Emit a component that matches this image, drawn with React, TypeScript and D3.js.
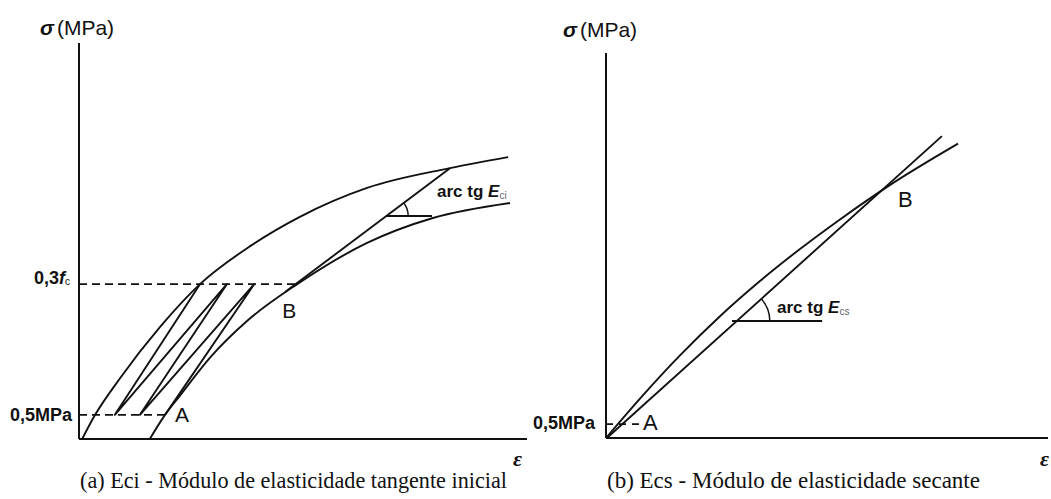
import React from "react";
import * as d3 from "d3";

// ---- Panel (a): initial tangent modulus Eci (strain units 0-100, stress units 0-100)
const eciUpperEnvelope: [number, number][] = [
  [0.7, 0], [3.6, 6.1], [9.2, 15.4], [18.1, 28.3], [27.0, 39.1],
  [38.2, 48.7], [49.3, 56.1], [64.3, 63.4], [82.8, 68.4], [95.8, 71.2],
];
const eciFinalLoading: [number, number][] = [
  [15.8, 0], [19.2, 6.1], [22.5, 10.9], [29.2, 20.5], [37.5, 29.8],
  [48.7, 39.1], [64.3, 49.5], [79.0, 55.8], [96.2, 59.6],
];
// load / unload cycles between 0,5 MPa and 0,3 fc
const eciCycles: [number, number][] = [
  [27.0, 39.1], [8.0, 6.1], [33.0, 39.1], [13.6, 6.1], [39.1, 39.1], [19.2, 6.1],
];
const eciTangent: [number, number][] = [[46.0, 37.1], [82.8, 68.4]];
const eciLevelLow = 6.1;   // 0,5 MPa
const eciLevelHigh = 39.1; // 0,3 fc
const eciPointA: [number, number] = [19.2, 6.1];
const eciPointB: [number, number] = [48.7, 39.1];
const eciAngleBase: [number, number][] = [[68.5, 56.3], [78.8, 56.3]];

// ---- Panel (b): secant modulus Ecs
const ecsCurve: [number, number][] = [
  [0, 0], [7.69, 10.23], [16.74, 21.45], [25.79, 31.64], [34.84, 40.78],
  [43.89, 49.09], [52.94, 56.78], [64.03, 65.56], [79.64, 76.47],
];
const ecsSecant: [number, number][] = [[0.45, 0.26], [76.0, 78.4]];
const ecsLevelLow = 3.6; // 0,5 MPa
const ecsLowDashEnd = 7.7;
const ecsPointA: [number, number] = [3.6, 3.6];
const ecsPointB: [number, number] = [64.0, 65.8];
const ecsAngleBase: [number, number][] = [[28.5, 30.4], [48.9, 30.4]];

const captionA = "(a) Eci - Módulo de elasticidade tangente inicial";
const captionB = "(b) Ecs - Módulo de elasticidade secante";

const W = 1051;
const H = 499;
const INK = "#111";
const SANS = "'Liberation Sans', Arial, Helvetica, sans-serif";
const SERIF = "'Liberation Serif', 'Times New Roman', serif";

type Pt = [number, number];
type Scale = d3.ScaleLinear<number, number>;

function makeLine(x: Scale, y: Scale, curved: boolean) {
  const g = d3.line<Pt>().x((d) => x(d[0])).y((d) => y(d[1]));
  if (curved) g.curve(d3.curveMonotoneX);
  return g;
}

function angleArc(x: Scale, y: Scale, line: Pt[], baseY: number, r: number) {
  // intersection of the modulus line with the horizontal base
  const [p0, p1] = line;
  const t = (baseY - p0[1]) / (p1[1] - p0[1]);
  const cx = x(p0[0] + t * (p1[0] - p0[0]));
  const cy = y(baseY);
  const theta = Math.atan2(y(p0[1]) - y(p1[1]), x(p1[0]) - x(p0[0]));
  return `M${cx + r},${cy} A${r},${r} 0 0 0 ${cx + r * Math.cos(theta)},${cy - r * Math.sin(theta)}`;
}

export default function App() {
  const xL = d3.scaleLinear().domain([0, 100]).range([79, 527]);
  const yL = d3.scaleLinear().domain([0, 100]).range([439, 43]);
  const xR = d3.scaleLinear().domain([0, 100]).range([606, 1048]);
  const yR = d3.scaleLinear().domain([0, 100]).range([438, 53]);

  const curveL = makeLine(xL, yL, true);
  const straightL = makeLine(xL, yL, false);
  const curveR = makeLine(xR, yR, true);
  const straightR = makeLine(xR, yR, false);

  const lineProps = { fill: "none", stroke: INK, strokeWidth: 1.9, strokeLinejoin: "round" as const };
  const axisProps = { stroke: INK, strokeWidth: 2 };
  const dashProps = { stroke: INK, strokeWidth: 1.6, strokeDasharray: "8,5" };

  return (
    <svg
      width={W}
      height={H}
      viewBox={`0 0 ${W} ${H}`}
      style={{ position: "absolute", left: 0, top: 0, display: "block", background: "#fff" }}
    >
      {/* ---------- panel (a) ---------- */}
      <g>
        <line x1={xL(0)} y1={yL(0)} x2={xL(0)} y2={yL(100)} {...axisProps} />
        <line x1={xL(0)} y1={yL(0)} x2={xL(100)} y2={yL(0)} {...axisProps} />

        <line x1={xL(0)} y1={yL(eciLevelHigh)} x2={xL(eciPointB[0])} y2={yL(eciLevelHigh)} {...dashProps} />
        <line x1={xL(0)} y1={yL(eciLevelLow)} x2={xL(eciPointA[0])} y2={yL(eciLevelLow)} {...dashProps} />

        <path d={curveL(eciUpperEnvelope) ?? ""} {...lineProps} />
        <path d={curveL(eciFinalLoading) ?? ""} {...lineProps} />
        <path d={straightL(eciCycles) ?? ""} {...lineProps} />
        <path d={straightL(eciTangent) ?? ""} {...lineProps} />
        <path d={straightL(eciAngleBase) ?? ""} {...lineProps} />
        <path d={angleArc(xL, yL, eciTangent, eciAngleBase[0][1], 22)} {...lineProps} strokeWidth={1.5} />

        <text x={40} y={35} fontFamily={SANS} fontSize={21} fill={INK}>
          <tspan fontStyle="italic" fontWeight="bold">σ</tspan>
          <tspan dx={3}>(MPa)</tspan>
        </text>

        <text x={70} y={yL(eciLevelHigh)} fontFamily={SANS} fontSize={18} fontWeight="bold" fill={INK} textAnchor="end">
          0,3<tspan fontStyle="italic">f</tspan>
          <tspan fontSize={10} fontWeight="normal" dy={1}>c</tspan>
        </text>
        <text x={72} y={yL(eciLevelLow) + 6} fontFamily={SANS} fontSize={18} fontWeight="bold" fill={INK} textAnchor="end">
          0,5MPa
        </text>

        <text x={xL(eciPointA[0]) + 10} y={yL(eciPointA[1]) + 7} fontFamily={SANS} fontSize={21} fill={INK}>A</text>
        <text x={xL(eciPointB[0]) - 15} y={yL(eciPointB[1]) + 34} fontFamily={SANS} fontSize={21} fill={INK}>B</text>

        <text x={437} y={197} fontFamily={SANS} fontSize={17} fontWeight="bold" fill={INK}>
          arc tg <tspan fontStyle="italic">E</tspan>
          <tspan fontSize={10} fontWeight="normal" fill="#666" dy={2}>ci</tspan>
        </text>

        <text x={513} y={466} fontFamily={SERIF} fontSize={22} fontStyle="italic" fontWeight="bold" fill={INK}>ε</text>

        <text x={80} y={488} fontFamily={SERIF} fontSize={22.2} fill={INK}>{captionA}</text>
      </g>

      {/* ---------- panel (b) ---------- */}
      <g>
        <line x1={xR(0)} y1={yR(0)} x2={xR(0)} y2={yR(100)} {...axisProps} />
        <line x1={xR(0)} y1={yR(0)} x2={xR(100)} y2={yR(0)} {...axisProps} />

        <line x1={xR(0)} y1={yR(ecsLevelLow)} x2={xR(ecsLowDashEnd)} y2={yR(ecsLevelLow)} {...dashProps} strokeDasharray="7,6" />

        <path d={curveR(ecsCurve) ?? ""} {...lineProps} />
        <path d={straightR(ecsSecant) ?? ""} {...lineProps} />
        <path d={straightR(ecsAngleBase) ?? ""} {...lineProps} />
        <path d={angleArc(xR, yR, ecsSecant, ecsAngleBase[0][1], 33)} {...lineProps} strokeWidth={1.5} />

        <text x={563} y={37} fontFamily={SANS} fontSize={21} fill={INK}>
          <tspan fontStyle="italic" fontWeight="bold">σ</tspan>
          <tspan dx={3}>(MPa)</tspan>
        </text>

        <text x={595} y={yR(ecsLevelLow) + 5} fontFamily={SANS} fontSize={18} fontWeight="bold" fill={INK} textAnchor="end">
          0,5MPa
        </text>

        <text x={xR(ecsPointA[0]) + 21} y={yR(ecsPointA[1]) + 6} fontFamily={SANS} fontSize={22} fill={INK}>A</text>
        <text x={xR(ecsPointB[0]) + 9} y={yR(ecsPointB[1]) + 22} fontFamily={SANS} fontSize={22} fill={INK}>B</text>

        <text x={777} y={313} fontFamily={SANS} fontSize={17} fontWeight="bold" fill={INK}>
          arc tg <tspan fontStyle="italic">E</tspan>
          <tspan fontSize={10} fontWeight="normal" fill="#666" dy={2}>cs</tspan>
        </text>

        <text x={1040} y={466} fontFamily={SERIF} fontSize={22} fontStyle="italic" fontWeight="bold" fill={INK}>ε</text>

        <text x={607} y={488} fontFamily={SERIF} fontSize={23} fill={INK}>{captionB}</text>
      </g>
    </svg>
  );
}
